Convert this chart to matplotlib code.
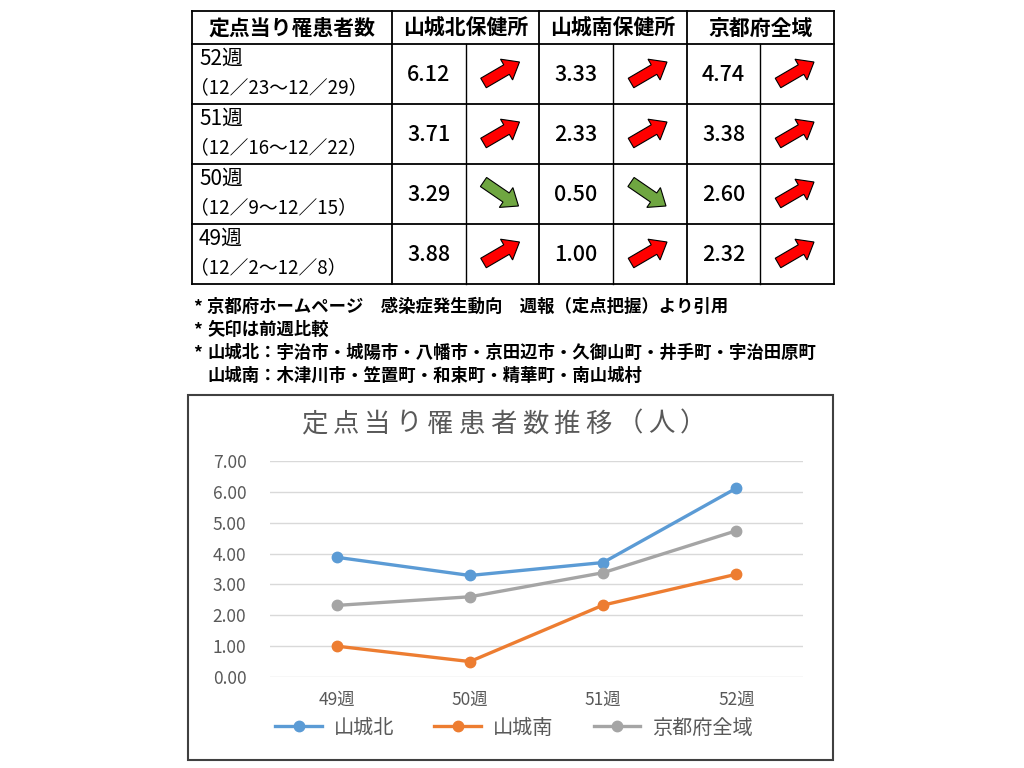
import numpy as np
import matplotlib.pyplot as plt
from matplotlib.patches import FancyArrow, Rectangle

plt.rcParams['font.family'] = ['Noto Sans CJK JP', 'DejaVu Sans']

# data
weeks = ['49週', '50週', '51週', '52週']
periods = ['（12／2〜12／8）', '（12／9〜12／15）', '（12／16〜12／22）', '（12／23〜12／29）']
north = [3.88, 3.29, 3.71, 6.12]
south = [1.00, 0.50, 2.33, 3.33]
kyoto = [2.32, 2.60, 3.38, 4.74]
areas = ['山城北', '山城南', '京都府全域']
headers = ['定点当り罹患者数', '山城北保健所', '山城南保健所', '京都府全域']
# 49週の前週比 (48週の値は表に無い)
up_49 = [True, True, True]
notes = ['京都府ホームページ　感染症発生動向　週報（定点把握）より引用',
         '矢印は前週比較',
         '山城北：宇治市・城陽市・八幡市・京田辺市・久御山町・井手町・宇治田原町']
note_cont = '山城南：木津川市・笠置町・和束町・精華町・南山城村'
title = '定点当り罹患者数推移（人）'
colors = ['#5B9BD5', '#ED7D31', '#A5A5A5']

series = [north, south, kyoto]

fig = plt.figure(figsize=(10.24, 7.68), dpi=100)
fig.patch.set_facecolor('white')

# pixel overlay for table, notes and frame
px = fig.add_axes([0, 0, 1, 1])
px.set_xlim(0, 1024)
px.set_ylim(768, 0)
px.axis('off')

# ---- table ----
col_x = [192, 392, 466, 539, 613, 687, 760, 834]
row_y = [11, 44, 104, 164, 224, 284]
for y in row_y:
    px.plot([col_x[0], col_x[-1]], [y, y], color='black', lw=1.3)
for i in [0, 1, 3, 5, 7]:
    px.plot([col_x[i], col_x[i]], [row_y[0], row_y[-1]], color='black', lw=1.3)
for i in [2, 4, 6]:
    px.plot([col_x[i], col_x[i]], [row_y[1], row_y[-1]], color='black', lw=1.0)

head_cells = [(col_x[0], col_x[1]), (col_x[1], col_x[3]), (col_x[3], col_x[5]), (col_x[5], col_x[7])]
for (a, b), h in zip(head_cells, headers):
    px.text((a + b) / 2, (row_y[0] + row_y[1]) / 2 + 1, h, ha='center', va='center',
            fontsize=15, fontweight='bold', color='black')

for r in range(4):
    k = 3 - r  # newest week at top
    y0, y1 = row_y[r + 1], row_y[r + 2]
    cy = (y0 + y1) / 2
    px.text(199, y0 + 15, weeks[k], ha='left', va='center', fontsize=15)
    px.text(190, y0 + 44, periods[k], ha='left', va='center', fontsize=13.5)
    for j, s in enumerate(series):
        vx = (col_x[1 + 2 * j] + col_x[2 + 2 * j]) / 2
        px.text(vx, cy + 1, f'{s[k]:.2f}', ha='center', va='center', fontsize=15.5,
                fontweight='medium')
        up = up_49[j] if k == 0 else s[k] > s[k - 1]
        ax_c = (col_x[2 + 2 * j] + col_x[3 + 2 * j]) / 2
        if up:
            x0, yy0, dx, dy, fc = ax_c - 19, cy + 9, 36, -21, '#FF0000'
        else:
            x0, yy0, dx, dy, fc = ax_c - 19, cy - 12, 35, 24, '#6FA641'
        px.add_patch(FancyArrow(x0, yy0, dx, dy, width=11, head_width=24, head_length=15,
                                length_includes_head=True, fc=fc, ec='black', lw=0.8))

# ---- notes ----
note_y = [307, 330, 353]
for y, t in zip(note_y, notes):
    px.text(193, y, '*', ha='left', va='center', fontsize=12.5, fontweight='bold')
    px.text(207, y, t, ha='left', va='center', fontsize=12.5, fontweight='bold')
px.text(207, 376, note_cont, ha='left', va='center', fontsize=12.5, fontweight='bold')

# ---- chart frame and title ----
px.add_patch(Rectangle((188, 395), 645, 365, fill=False, ec='#404040', lw=1.5))
for i, ch in enumerate(title):
    px.text(298 + 16 + 31.6 * i, 424, ch, ha='center', va='center',
            fontsize=19, color='#595959')

# ---- line chart ----
ax = fig.add_axes([270 / 1024, (768 - 677) / 768, 533 / 1024, 216 / 768])
ax.patch.set_alpha(0)
x = np.arange(len(weeks))
for s, c, name in zip(series, colors, areas):
    ax.plot(x, s, color=c, lw=2.4, marker='o', markersize=7.5, label=name)
ax.set_xlim(-0.5, 3.5)
ax.set_ylim(0, 7)
ax.set_yticks(np.arange(0, 8, 1))
ax.set_yticklabels([f'{v:.2f}' for v in np.arange(0, 8, 1)])
ax.set_xticks(x)
ax.set_xticklabels(weeks)
ax.grid(axis='y', color='#D9D9D9', lw=1)
ax.set_axisbelow(True)
for sp in ax.spines.values():
    sp.set_visible(False)
ax.tick_params(length=0, labelsize=12.5, labelcolor='#595959')
ax.tick_params(axis='y', pad=17)
ax.tick_params(axis='x', pad=10)

ax.legend(loc='center', bbox_to_anchor=(514 / 1024, 1 - 728 / 768), bbox_transform=fig.transFigure,
          ncol=3, frameon=False, fontsize=14.5, handlelength=2.3, handletextpad=0.6,
          columnspacing=2.0, labelcolor='#595959')

fig.savefig('out.png', dpi=100, facecolor='white')
